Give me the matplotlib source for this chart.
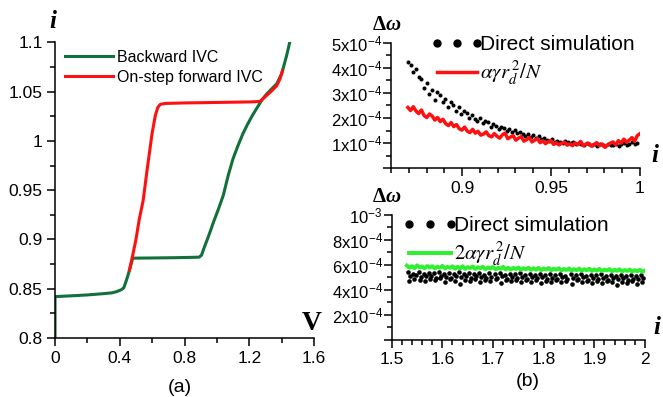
import matplotlib
matplotlib.use("Agg")
import matplotlib.pyplot as plt
from matplotlib.legend_handler import HandlerLine2D
from matplotlib.ticker import MultipleLocator, FuncFormatter
import numpy as np

plt.rcParams["font.family"] = ["Liberation Sans", "DejaVu Sans"]
plt.rcParams["mathtext.fontset"] = "stix"

# (a) current-voltage characteristics
back_v = [0.0, 0.0, 0.10, 0.20, 0.30, 0.35, 0.38, 0.41, 0.425, 0.44, 0.455, 0.47,
          0.48, 0.60, 0.75, 0.89, 0.905, 0.92, 0.95, 0.98, 1.01, 1.04, 1.07, 1.10,
          1.13, 1.16, 1.19, 1.22, 1.25, 1.28, 1.31, 1.34, 1.37, 1.40, 1.43, 1.45]
back_i = [0.80, 0.842, 0.8428, 0.8437, 0.845, 0.8458, 0.847, 0.849, 0.851, 0.858,
          0.866, 0.875, 0.881, 0.8812, 0.8815, 0.882, 0.884, 0.891, 0.904, 0.918,
          0.931, 0.945, 0.965, 0.982, 0.995, 1.007, 1.017, 1.026, 1.034, 1.042,
          1.048, 1.053, 1.058, 1.068, 1.086, 1.10]
fwd_v = [0.46, 0.48, 0.50, 0.52, 0.545, 0.57, 0.60, 0.62, 0.635, 0.65, 0.68, 0.80,
         1.00, 1.20, 1.266, 1.30, 1.34, 1.37, 1.39, 1.405]
fwd_i = [0.869, 0.884, 0.900, 0.920, 0.940, 0.972, 1.008, 1.026, 1.034, 1.037,
         1.038, 1.0385, 1.039, 1.0395, 1.040, 1.045, 1.051, 1.056, 1.063, 1.071]

# (b) upper: frequency spread, units of 1e-4, sampled every 0.0015 from i = 0.8695
sim_low = [4.25, 4.10, 3.85, 3.95, 3.62, 3.55, 3.20, 3.40, 2.95, 3.10,
           2.72, 3.02, 2.90, 2.62, 2.75, 2.45, 2.62, 2.52, 2.30, 2.42,
           2.15, 2.30, 2.22, 2.02, 2.12, 1.98, 1.88, 2.02, 1.80, 1.90,
           1.84, 1.66, 1.76, 1.70, 1.58, 1.66, 1.61, 1.50, 1.58, 1.45,
           1.52, 1.40, 1.46, 1.36, 1.30, 1.38, 1.26, 1.32, 1.20, 1.27,
           1.16, 1.22, 1.14, 1.08, 1.15, 1.05, 1.10, 1.06, 1.02, 1.09,
           1.03, 0.99, 1.06, 0.97, 1.01, 0.98, 0.94, 1.00, 0.95, 0.92,
           0.98, 0.90, 0.95, 0.93, 0.88, 0.96, 0.91, 0.94, 0.98, 0.90,
           0.96, 1.00, 0.93, 0.98, 1.03, 0.96, 1.02]
theory_low = [2.42, 2.30, 2.45, 2.28, 2.18, 2.32, 2.10, 2.02, 2.16, 2.08,
              1.92, 2.02, 1.86, 1.95, 1.78, 1.70, 1.82, 1.66, 1.74, 1.58,
              1.52, 1.64, 1.48, 1.42, 1.55, 1.40, 1.47, 1.32, 1.36, 1.45,
              1.30, 1.25, 1.38, 1.28, 1.20, 1.33, 1.40, 1.18, 1.24, 1.30,
              1.12, 1.20, 1.26, 1.08, 1.14, 1.22, 1.05, 1.12, 1.18, 1.02,
              1.09, 0.98, 1.06, 1.10, 0.95, 1.02, 0.93, 1.00, 1.04, 0.92,
              0.97, 0.90, 1.01, 0.94, 1.07, 0.90, 0.96, 0.99, 0.88, 0.95,
              1.02, 0.90, 0.97, 0.84, 0.93, 1.00, 1.05, 0.94, 1.10, 1.00,
              1.16, 1.04, 1.12, 1.22, 1.08, 1.30, 1.38]

# (b) lower: units of 1e-4
theory_high = [5.95, 5.78, 5.90, 5.75, 5.97, 5.80, 5.88, 5.74, 5.92, 5.79,
               5.90, 5.73, 5.86, 5.78, 5.93, 5.72, 5.85, 5.77, 5.90, 5.70,
               5.86, 5.72, 5.90, 5.69, 5.83, 5.75, 5.88, 5.68, 5.82, 5.74,
               5.86, 5.66, 5.80, 5.72, 5.84, 5.65, 5.78, 5.70, 5.85, 5.64,
               5.78, 5.63, 5.76, 5.68, 5.80, 5.61, 5.74, 5.66, 5.79, 5.60,
               5.74, 5.62, 5.77, 5.58, 5.72, 5.64, 5.76, 5.57, 5.70, 5.62,
               5.74, 5.55, 5.69, 5.60, 5.73, 5.54, 5.67, 5.58, 5.72, 5.53,
               5.66, 5.57, 5.70, 5.52, 5.65, 5.55, 5.69, 5.50, 5.63, 5.56,
               5.67, 5.49, 5.62, 5.53, 5.66, 5.48, 5.60, 5.52, 5.64, 5.46,
               5.58, 5.50, 5.62, 5.45, 5.56]
sim_high_a = [5.40, 5.30, 5.45, 5.28, 5.38, 5.33, 5.42, 5.25, 5.36, 5.30,
              5.40, 5.24, 5.34, 5.29, 5.37, 5.22, 5.32, 5.27, 5.35, 5.20,
              5.30, 5.25, 5.33, 5.18, 5.28, 5.23, 5.31, 5.16, 5.26, 5.21,
              5.29, 5.14, 5.24, 5.19, 5.27, 5.12, 5.22, 5.17, 5.25, 5.10,
              5.20, 5.15, 5.22, 5.08, 5.18, 5.12, 5.20]
sim_high_b = [5.10, 5.20, 5.02, 5.15, 5.08, 4.98, 5.14, 5.05, 4.95, 5.12,
              5.00, 5.08, 4.94, 5.10, 5.02, 4.92, 5.06, 4.98, 5.08, 4.90,
              5.03, 4.95, 5.05, 4.88, 5.00, 4.93, 5.04, 4.86, 4.98, 4.91,
              5.02, 4.85, 4.96, 4.89, 5.00, 4.83, 4.94, 4.87, 4.98, 4.81,
              4.92, 4.86, 4.96, 4.80, 4.90, 4.84, 4.93]
sim_high_c = [4.75, 4.90, 4.82, 4.68, 4.88, 4.78, 4.92, 4.60, 4.85, 4.74,
              4.50, 4.83, 4.72, 4.86, 4.65, 4.80, 4.70, 4.84, 4.58, 4.78,
              4.68, 4.82, 4.62, 4.76, 4.66, 4.80, 4.55, 4.74, 4.64, 4.78,
              4.60, 4.72, 4.48, 4.76, 4.62, 4.70, 4.58, 4.74, 4.52, 4.68,
              4.60, 4.40, 4.66, 4.55, 4.70, 4.50, 4.62]

# sampling grids of the above series
i_low = np.linspace(0.8695, 0.9985, len(sim_low))
i_low_th = np.linspace(0.8695, 1.0, len(theory_low))
i_high_th = np.linspace(1.53, 2.0, len(theory_high))
i_high_a = np.linspace(1.533, 1.993, len(sim_high_a))
i_high_b = np.linspace(1.537, 1.997, len(sim_high_b))
i_high_c = np.linspace(1.535, 1.995, len(sim_high_c))

GREEN = "#12703a"
RED = "#ff1010"
LIME = "#2ef02e"


def style_axes(ax):
    for side in ("top", "right"):
        ax.spines[side].set_visible(False)
    for side in ("left", "bottom"):
        ax.spines[side].set_linewidth(1.1)
    ax.tick_params(which="major", direction="out", length=5.5, width=1.1)
    ax.tick_params(which="minor", direction="out", length=3.5, width=1.1)


def sci_label(step, top_power=None):
    def fmt(val, pos):
        n = int(round(val / step))
        if n == 0:
            return ""
        if top_power is not None and abs(val - 10.0 ** top_power) < step / 10:
            return r"$\mathregular{10^{%d}}$" % top_power
        return r"$\mathregular{%dx10^{-4}}$" % (val / 1e-4 + 0.5)
    return FuncFormatter(fmt)


fig = plt.figure(figsize=(6.63, 3.97), dpi=100)
ax_a = fig.add_axes([0.083, 0.1486, 0.3906, 0.7448])
ax_b1 = fig.add_axes([0.5897, 0.5761, 0.3756, 0.3164])
ax_b2 = fig.add_axes([0.5908, 0.1436, 0.3820, 0.3149])

# panel (a)
ax_a.plot(back_v, back_i, color=GREEN, lw=2.2, label="Backward IVC")
ax_a.plot(fwd_v, fwd_i, color=RED, lw=2.2, label="On-step forward IVC")
ax_a.set_xlim(0, 1.6)
ax_a.set_ylim(0.8, 1.1)
style_axes(ax_a)
ax_a.xaxis.set_major_locator(MultipleLocator(0.4))
ax_a.xaxis.set_minor_locator(MultipleLocator(0.2))
ax_a.yaxis.set_major_locator(MultipleLocator(0.05))
ax_a.yaxis.set_minor_locator(MultipleLocator(0.025))
g = FuncFormatter(lambda v, p: "%g" % round(v, 3))
ax_a.xaxis.set_major_formatter(g)
ax_a.yaxis.set_major_formatter(g)
ax_a.tick_params(labelsize=12.5)
ax_a.legend(loc="upper left", bbox_to_anchor=(0.038, 0.975), frameon=False,
            fontsize=11.5, handlelength=3.0, handletextpad=0.25,
            labelspacing=0.3, borderpad=0, borderaxespad=0)

# panel (b), low current range
ax_b1.plot(i_low, np.array(sim_low) * 1e-4, "o", color="black", ms=2.9,
           mew=0, label="Direct simulation")
ax_b1.plot(i_low_th, np.array(theory_low) * 1e-4, color=RED, lw=2.5,
           label=r"$\alpha\gamma r_d^{\,2}/N$")
ax_b1.set_xlim(0.86, 1.0)
ax_b1.set_ylim(0, 5e-4)
style_axes(ax_b1)
ax_b1.xaxis.set_major_locator(MultipleLocator(0.05))
ax_b1.xaxis.set_minor_locator(MultipleLocator(0.01))
ax_b1.xaxis.set_major_formatter(g)
ax_b1.yaxis.set_major_locator(MultipleLocator(1e-4))
ax_b1.yaxis.set_minor_locator(MultipleLocator(0.5e-4))
ax_b1.yaxis.set_major_formatter(sci_label(1e-4))
ax_b1.tick_params(axis="x", labelsize=12.5)
ax_b1.tick_params(axis="y", labelsize=12, pad=1)

# panel (b), high current range
ax_b2.plot(i_high_th, np.array(theory_high) * 1e-4, color=LIME, lw=2.8,
           label=r"$2\alpha\gamma r_d^{\,2}/N$", zorder=3)
for ii, row in ((i_high_a, sim_high_a), (i_high_b, sim_high_b),
                (i_high_c, sim_high_c)):
    ax_b2.plot(ii, np.array(row) * 1e-4, "o", color="black", ms=3.3, mew=0,
               zorder=2)
ax_b2.set_xlim(1.5, 2.0)
ax_b2.set_ylim(0, 1e-3)
style_axes(ax_b2)
ax_b2.xaxis.set_major_locator(MultipleLocator(0.1))
ax_b2.xaxis.set_minor_locator(MultipleLocator(0.02))
ax_b2.xaxis.set_major_formatter(g)
ax_b2.yaxis.set_major_locator(MultipleLocator(2e-4))
ax_b2.yaxis.set_minor_locator(MultipleLocator(1e-4))
ax_b2.yaxis.set_major_formatter(sci_label(2e-4, top_power=-3))
ax_b2.tick_params(axis="x", labelsize=12.5)
ax_b2.tick_params(axis="y", labelsize=12, pad=1)

# legend dots spread over the whole handle
dots = plt.Line2D([], [], ls="none", marker="o", color="black", ms=5)
dot_handler = {dots: HandlerLine2D(marker_pad=0.0, numpoints=3)}
h1, l1 = ax_b1.get_legend_handles_labels()
ax_b1.legend([dots, h1[1]], l1, loc="upper left", bbox_to_anchor=(0.185, 1.06),
             frameon=False, fontsize=15, handler_map=dot_handler,
             handlelength=1.9, handletextpad=0.18, labelspacing=0.25,
             borderpad=0, borderaxespad=0)
h2, l2 = ax_b2.get_legend_handles_labels()
ax_b2.legend([dots, h2[0]], ["Direct simulation", l2[0]], loc="upper left",
             bbox_to_anchor=(0.068, 0.99), frameon=False, fontsize=15,
             handler_map=dot_handler, handlelength=2.0, handletextpad=0.18,
             labelspacing=0.25, borderpad=0, borderaxespad=0)

# axis names and panel captions
W, H = 663.0, 397.0


def put(px, py, s, **kw):
    fig.text(px / W, 1 - py / H, s, ha="center", va="center", **kw)


serif = ["Liberation Serif", "DejaVu Serif"]
put(53, 22, "i", family=serif, weight="bold", style="italic", fontsize=18)
put(312, 324, "V", family=serif, weight="bold", fontsize=20)
put(655, 156, "i", family=serif, weight="bold", style="italic", fontsize=18)
put(657, 328, "i", family=serif, weight="bold", style="italic", fontsize=18)
for py in (25, 197):
    fig.text(386 / W, 1 - py / H, "Δ", family=serif, weight="bold",
             fontsize=15, ha="right", va="center")
    fig.text(386 / W, 1 - py / H, "ω", family=serif, weight="bold",
             style="italic", fontsize=15, ha="left", va="center")
put(180, 387, "(a)", fontsize=14)
put(528, 382, "(b)", fontsize=14)

fig.savefig("out.png", dpi=100)
